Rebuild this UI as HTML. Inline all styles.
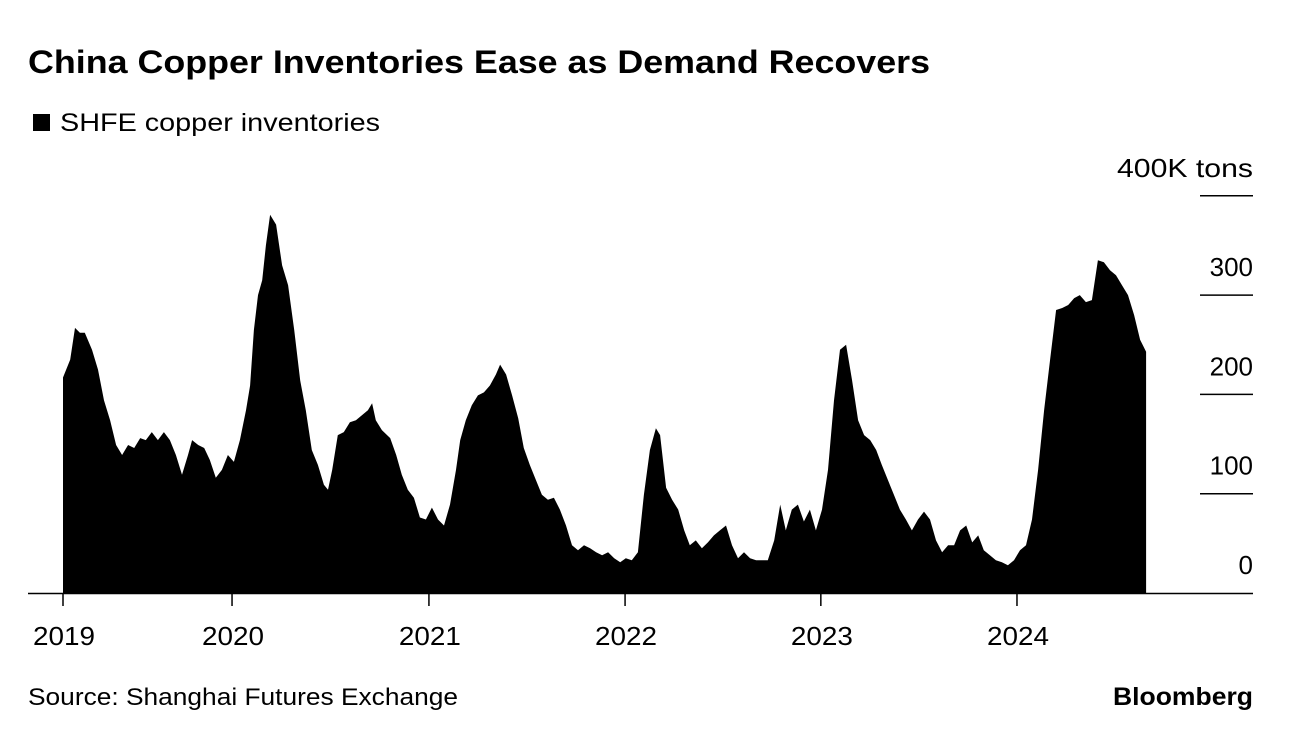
<!DOCTYPE html>
<html><head><meta charset="utf-8"><style>
body{margin:0;background:#fff;width:1292px;height:738px;overflow:hidden;font-family:"Liberation Sans",sans-serif}
</style></head><body>
<svg width="1292" height="738" style="position:absolute;left:0;top:0">
<text x="28" y="73" font-size="32" font-weight="bold" fill="#000" textLength="902" lengthAdjust="spacingAndGlyphs">China Copper Inventories Ease as Demand Recovers</text>
<rect x="33" y="114" width="17" height="17" fill="#000"/>
<text x="60" y="131" font-size="25" fill="#000" textLength="320" lengthAdjust="spacingAndGlyphs">SHFE copper inventories</text>
<g id="area"></g>
<g id="yaxis"></g>
<g id="xaxis"></g>
<text x="28" y="705" font-size="24" fill="#000" textLength="430" lengthAdjust="spacingAndGlyphs">Source: Shanghai Futures Exchange</text>
<text x="1253" y="705" font-size="25" font-weight="bold" text-anchor="end" fill="#000" textLength="140" lengthAdjust="spacingAndGlyphs">Bloomberg</text>
</svg>
<script>
// weeks since first observation
const weeks = [0,1.9,3.2,4.5,5.8,7.7,9.3,10.9,12.5,14.1,15.7,17.3,18.9,20.5,22.0,23.6,25.2,26.8,28.4,30.0,31.6,33.2,34.3,35.9,37.5,39.0,40.6,42.2,43.8,45.4,47.0,48.6,49.7,50.7,51.8,52.9,53.9,55.0,56.6,58.2,59.8,61.4,63.0,64.5,66.1,67.7,69.3,70.4,71.5,73.0,74.6,76.2,77.8,79.4,81.0,82.1,83.1,84.7,86.9,88.5,90.0,91.6,93.2,94.8,96.4,98.0,99.6,101.2,102.8,104.4,105.5,107.0,108.6,110.2,111.8,113.4,115.0,116.1,117.7,119.3,120.9,122.4,124.0,125.6,127.2,128.8,130.4,132.0,133.6,135.2,136.8,138.4,140.0,141.6,143.2,144.8,146.4,148.0,149.5,151.1,152.7,154.3,155.9,157.5,158.6,160.2,161.8,163.4,165.0,166.5,168.1,169.7,171.3,172.9,174.5,176.1,177.7,179.3,180.9,182.5,184.1,185.6,187.2,188.9,190.5,192.0,193.6,195.2,196.8,198.4,200.0,201.6,203.2,204.8,206.4,208.0,209.6,211.2,212.8,214.4,216.0,217.5,219.1,220.7,222.3,223.9,225.5,227.1,228.7,230.3,231.9,233.5,235.1,236.7,238.3,239.9,241.5,243.1,244.6,246.2,247.8,249.4,251.0,252.6,254.2,255.8,257.4,259.0,260.6,262.2,263.8,265.4,267.0,268.6,270.1,271.7,273.3,274.9,276.5,278.1,279.7,281.3,282.9,284.5,286.1,287.7];
const inventories = [217,235,267,262,262,245,225,194,174,149,139,149,146,156,154,162,154,162,154,139,119,139,154,149,146,134,116,124,139,132,154,184,209,265,300,315,350,381,371,330,310,265,214,184,144,129,109,104,124,159,162,172,174,179,184,191,174,164,156,139,119,104,96,76,74,86,74,68,89,124,154,174,189,199,202,209,220,230,220,199,176,146,129,114,99,94,96,84,68,48,43,48,45,41,38,41,35,31,35,33,41,99,144,166,159,106,94,84,63,48,53,45,51,58,63,68,48,35,41,35,33,33,33,53,89,63,84,89,72,84,63,84,124,194,245,250,214,174,159,154,144,129,114,99,84,74,63,74,82,74,53,41,48,48,63,68,51,58,43,38,33,31,28,33,43,48,74,124,184,235,285,287,290,297,300,293,295,335,333,325,320,310,300,280,255,243];
const yTicks = [0,100,200,300,400];
const yLabels = ["0","100","200","300","400K tons"];
const xTicks = [0,44.9,97.2,149.3,201.3,253.4];
const xLabels = ["2019","2020","2021","2022","2023","2024"];

const NS="http://www.w3.org/2000/svg";
const x = w => 63 + w*3.7647;
const y = v => 593 - v*0.993;
const n = Math.min(weeks.length, inventories.length);
let d = `M${x(weeks[0])},${y(0)}`;
for(let i=0;i<n;i++){ d+=` L${x(weeks[i]).toFixed(1)},${y(inventories[i]).toFixed(1)}`; }
d += ` L${x(weeks[n-1])},${y(0)} Z`;
const p=document.createElementNS(NS,'path');
p.setAttribute('d',d);p.setAttribute('fill','#000');


document.getElementById('area').appendChild(p);

const ya=document.getElementById('yaxis');
yTicks.forEach((v,i)=>{
  if(v>0){
    const l=document.createElementNS(NS,'line');
    l.setAttribute('x1',1200);l.setAttribute('x2',1253);l.setAttribute('y1',y(v));l.setAttribute('y2',y(v));
    l.setAttribute('stroke','#000');l.setAttribute('stroke-width','1.5');
    
    
    ya.appendChild(l);
  }
  const t=document.createElementNS(NS,'text');
  t.setAttribute('x',1253);t.setAttribute('y',y(v)-19);t.setAttribute('text-anchor','end');
  t.setAttribute('font-size','26');t.textContent=yLabels[i];
  if(v===400){t.setAttribute('textLength','136');t.setAttribute('lengthAdjust','spacingAndGlyphs');}
  
  
  ya.appendChild(t);
});
const xa=document.getElementById('xaxis');
const base=document.createElementNS(NS,'line');
base.setAttribute('x1',28);base.setAttribute('x2',1253);base.setAttribute('y1',593.5);base.setAttribute('y2',593.5);
base.setAttribute('stroke','#000');base.setAttribute('stroke-width','1.5');


xa.appendChild(base);
xTicks.forEach((v,i)=>{
  const l=document.createElementNS(NS,'line');
  l.setAttribute('x1',x(v));l.setAttribute('x2',x(v));l.setAttribute('y1',593);l.setAttribute('y2',606);
  l.setAttribute('stroke','#000');l.setAttribute('stroke-width','1.5');
  
  
  xa.appendChild(l);
  const t=document.createElementNS(NS,'text');
  t.setAttribute('x',x(v)+1);t.setAttribute('y',645);t.setAttribute('text-anchor','middle');
  t.setAttribute('font-size','26');t.textContent=xLabels[i];
  t.setAttribute('textLength','62');t.setAttribute('lengthAdjust','spacingAndGlyphs');
  
  
  xa.appendChild(t);
});
</script>
</body></html>
